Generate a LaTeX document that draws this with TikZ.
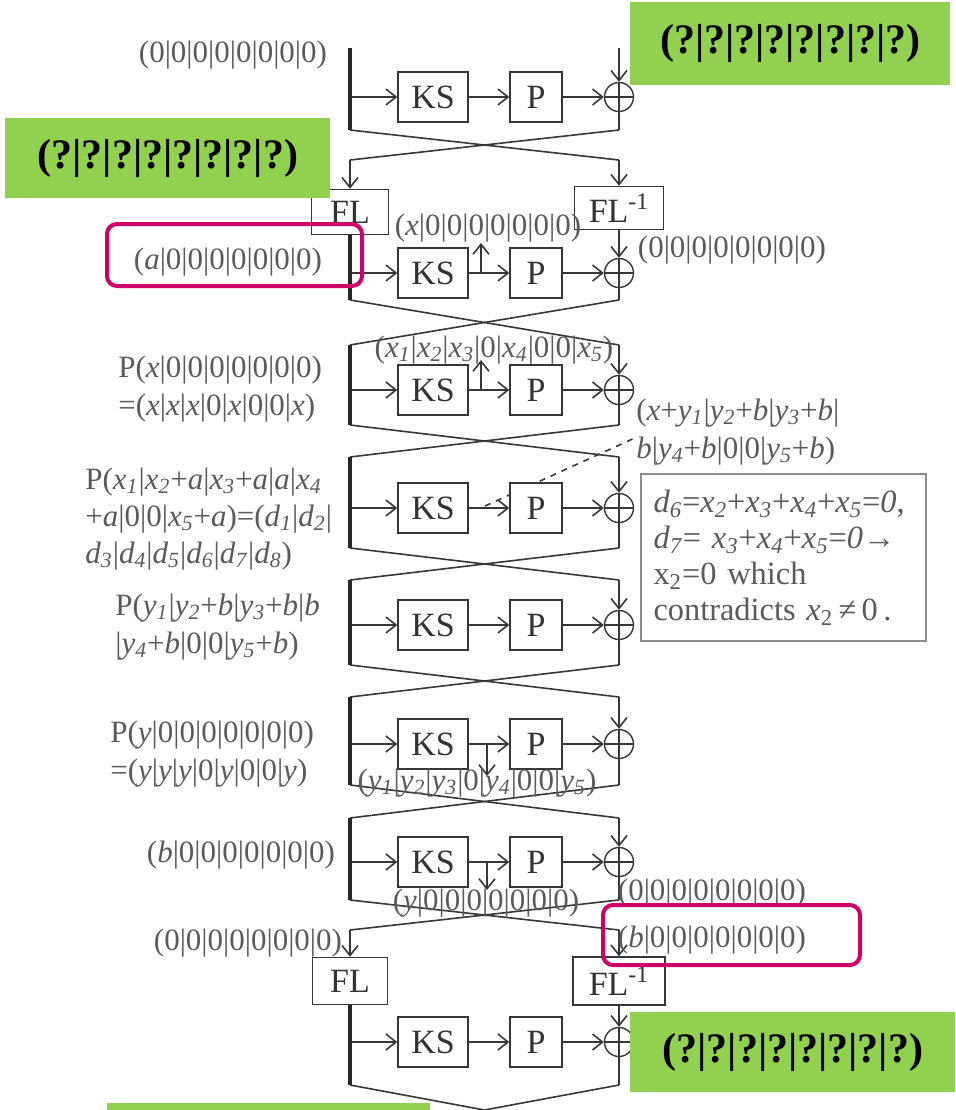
\documentclass[tikz,border=0pt]{standalone}
\usepackage{fontspec}
\setmainfont{Liberation Serif}
\usepackage{xcolor}
\usetikzlibrary{arrows.meta}
\definecolor{qgreen}{RGB}{146,208,80}
\definecolor{qpink}{RGB}{204,0,102}
\definecolor{inkgray}{RGB}{55,55,55}
\definecolor{txtgray}{RGB}{90,90,90}
\newcommand{\iv}[1]{\textit{#1}}
\newcommand{\sv}[2]{\textit{#1}\textsubscript{\textit{#2}}}
\tikzset{
  rbox/.style={draw=inkgray, line width=0.8pt, fill=white, minimum height=25pt, inner sep=0pt, font=\fontsize{17}{17}\selectfont, text=black!80},
  xorc/.style={draw=inkgray, line width=0.7pt, circle, minimum size=14.5pt, inner sep=0pt,
    path picture={\draw[inkgray, line width=0.7pt] (path picture bounding box.north) -- (path picture bounding box.south) (path picture bounding box.west) -- (path picture bounding box.east);}},
  wire/.style={draw=inkgray, line width=0.8pt},
  wirearr/.style={wire, -{Straight Barb[length=5pt,width=8pt]}},
  bar/.style={draw=black!85, line width=1.6pt},
  lbl/.style={font=\fontsize{15.5}{19}\selectfont, text=txtgray, inner sep=0pt},
  qbox/.style={fill=qgreen, font=\fontsize{21}{21}\selectfont\bfseries, text=black, inner sep=0pt, anchor=north west},
  pinkbox/.style={draw=qpink, line width=2pt, rounded corners=5pt}
}

\begin{document}
\begin{tikzpicture}[x=0.5pt,y=-0.5pt]
  \useasboundingbox (0,0) rectangle (955,1110);
  \clip (0,0) rectangle (955,1110);

  % dashed hint, goes under the P box of round 4
  \coordinate (dst) at (485,506);
  \coordinate (dnd) at (637,437);
  \draw[wire, dashed] (dst) -- (dnd);

  % the eight rounds
  \foreach \r/\y in {1/97,2/273,3/390,4/508,5/625,6/744,7/862,8/1042} {
    \coordinate (l\r) at (350,\y);
    \node[rbox, minimum width=35pt] (ks\r) at (433,\y) {KS};
    \node[rbox, minimum width=26pt] (p\r) at (536,\y) {P};
    \node[xorc] (x\r) at (619,\y) {};
    \draw[wirearr] (l\r) -- (ks\r);
    \draw[wirearr] (ks\r) -- (p\r);
    \draw[wirearr] (p\r) -- (x\r);
  }

  \foreach \r/\t/\b in {1/48/130,3/345/425,4/457/548,5/580/665,6/697/785,7/818/900} {
    \coordinate (lt\r) at (350,\t);
    \coordinate (rt\r) at (619,\t);
    \coordinate (lb\r) at (350,\b);
    \coordinate (rb\r) at (619,\b);
    \draw[bar] (lt\r) -- (lb\r);
    \draw[wirearr] (rt\r) -- (x\r);
    \draw[wire] (x\r) -- (rb\r);
  }
  \coordinate (lb2) at (350,300);
  \coordinate (rb2) at (619,300);
  \coordinate (lb8) at (350,1085);
  \coordinate (rb8) at (619,1085);

  % FL layers
  \node[rbox, minimum width=38.5pt, minimum height=22.5pt] (fl2) at (350,212) {FL};
  \node[rbox, minimum width=44.5pt, minimum height=21.5pt] (fli2) at (619,208) {FL\textsuperscript{-1}};
  \node[rbox, minimum width=37.5pt, minimum height=23.5pt] (fl8) at (350,981) {FL};
  \node[rbox, minimum width=46pt, minimum height=24pt] (fli8) at (619,981) {FL\textsuperscript{-1}};

  \coordinate (c1l) at (350,160);
  \coordinate (c1r) at (619,160);
  \coordinate (c7l) at (350,930);
  \coordinate (c7r) at (619,930);
  \coordinate (c8l) at (350,1135);
  \coordinate (c8r) at (619,1135);

  % swaps
  \draw[wire] (lb1) -- (c1r);
  \draw[wire] (rb1) -- (c1l);
  \draw[wirearr] (c1l) -- (fl2);
  \draw[wirearr] (c1r) -- (fli2);
  \draw[bar] (fl2) -- (lb2);
  \draw[wirearr] (fli2) -- (x2);
  \draw[wire] (x2) -- (rb2);
  \foreach \a/\b in {2/3,3/4,4/5,5/6,6/7} {
    \draw[wire] (lb\a) -- (rt\b);
    \draw[wire] (rb\a) -- (lt\b);
  }
  \draw[wire] (lb7) -- (c7r);
  \draw[wire] (rb7) -- (c7l);
  \draw[wirearr] (c7l) -- (fl8);
  \draw[wirearr] (c7r) -- (fli8);
  \draw[bar] (fl8) -- (lb8);
  \draw[wirearr] (fli8) -- (x8);
  \draw[wire] (x8) -- (rb8);
  \draw[wire] (lb8) -- (c8r);
  \draw[wire] (rb8) -- (c8l);

  % taps between KS and P
  \coordinate (br2) at (481,273);
  \coordinate (bt2) at (481,243);
  \coordinate (br3) at (481,390);
  \coordinate (bt3) at (481,360);
  \coordinate (br6) at (487,744);
  \coordinate (bt6) at (487,776);
  \coordinate (br7) at (487,862);
  \coordinate (bt7) at (487,890);
  \draw[wirearr] (br2) -- (bt2);
  \draw[wirearr] (br3) -- (bt3);
  \draw[wirearr] (br6) -- (bt6);
  \draw[wirearr] (br7) -- (bt7);

  % differences
  \node[lbl] (t0) at (233,55) {(0|0|0|0|0|0|0|0)};
  \node[lbl] (ta) at (228,262) {(\iv{a}|0|0|0|0|0|0|0)};
  \node[lbl] (tx) at (488,228) {(\iv{x}|0|0|0|0|0|0|0)};
  \node[lbl] (tz2) at (732,250) {(0|0|0|0|0|0|0|0)};
  \node[lbl] (tx5) at (494,350) {(\sv{x}{1}|\sv{x}{2}|\sv{x}{3}|0|\sv{x}{4}|0|0|\sv{x}{5})};
  \node[lbl, align=left, anchor=west] (px) at (118,389) {P(\iv{x}|0|0|0|0|0|0|0)\\=(\iv{x}|\iv{x}|\iv{x}|0|\iv{x}|0|0|\iv{x})};
  \node[lbl, align=left, anchor=west] (xy) at (636,432) {(\iv{x}+\sv{y}{1}|\sv{y}{2}+\iv{b}|\sv{y}{3}+\iv{b}|\\\iv{b}|\sv{y}{4}+\iv{b}|0|0|\sv{y}{5}+\iv{b})};
  \node[lbl, align=left, anchor=west, font=\fontsize{15.5}{18.5}\selectfont] (pd) at (85,519) {P(\sv{x}{1}|\sv{x}{2}+\iv{a}|\sv{x}{3}+\iv{a}|\iv{a}|\sv{x}{4}\\+\iv{a}|0|0|\sv{x}{5}+\iv{a})=(\sv{d}{1}|\sv{d}{2}|\\\sv{d}{3}|\sv{d}{4}|\sv{d}{5}|\sv{d}{6}|\sv{d}{7}|\sv{d}{8})};
  \node[lbl, align=left, anchor=west] (py5) at (115,627) {P(\sv{y}{1}|\sv{y}{2}+\iv{b}|\sv{y}{3}+\iv{b}|\iv{b}\\|\sv{y}{4}+\iv{b}|0|0|\sv{y}{5}+\iv{b})};
  \node[lbl, align=left, anchor=west] (py) at (110,754) {P(\iv{y}|0|0|0|0|0|0|0)\\=(\iv{y}|\iv{y}|\iv{y}|0|\iv{y}|0|0|\iv{y})};
  \node[lbl] (ty5) at (477,783) {(\sv{y}{1}|\sv{y}{2}|\sv{y}{3}|0|\sv{y}{4}|0|0|\sv{y}{5})};
  \node[lbl] (tb) at (241,855) {(\iv{b}|0|0|0|0|0|0|0)};
  \node[lbl] (ty) at (486,903) {(\iv{y}|0|0|0|0|0|0|0)};
  \node[lbl] (tz7) at (712,893) {(0|0|0|0|0|0|0|0)};
  \node[lbl] (tz8) at (248,943) {(0|0|0|0|0|0|0|0)};
  \node[lbl] (tb8) at (712,940) {(\iv{b}|0|0|0|0|0|0|0)};

  \node[lbl, draw=black!45, line width=1pt, anchor=north west, minimum width=142.5pt, minimum height=83.5pt,
        align=left, text width=130pt, inner xsep=6pt, font=\fontsize{16.2}{18}\selectfont] (proof) at (640,473)
    {\sv{d}{6}=\sv{x}{2}+\sv{x}{3}+\sv{x}{4}+\sv{x}{5}=\iv{0},\\
     \sv{d}{7}= \sv{x}{3}+\sv{x}{4}+\sv{x}{5}=\iv{0}→\\
     x\textsubscript{2}=0 which\\
     contradicts \iv{x}\textsubscript{2}\,≠\,0\,.};

  % overlays
  \draw[pinkbox] (107,224) rectangle (362,286);
  \draw[pinkbox] (603,905) rectangle (860,965);
  \node[qbox, minimum width=160pt, minimum height=41.5pt] (q1) at (630,2) {(?|?|?|?|?|?|?|?)};
  \node[qbox, minimum width=162.5pt, minimum height=40pt] (q2) at (5,118) {(?|?|?|?|?|?|?|?)};
  \node[qbox, minimum width=162.5pt, minimum height=40pt] (q3) at (630,1012) {(?|?|?|?|?|?|?|?)};
  \fill[qgreen] (107,1103) rectangle (430,1115);
\end{tikzpicture}
\end{document}
